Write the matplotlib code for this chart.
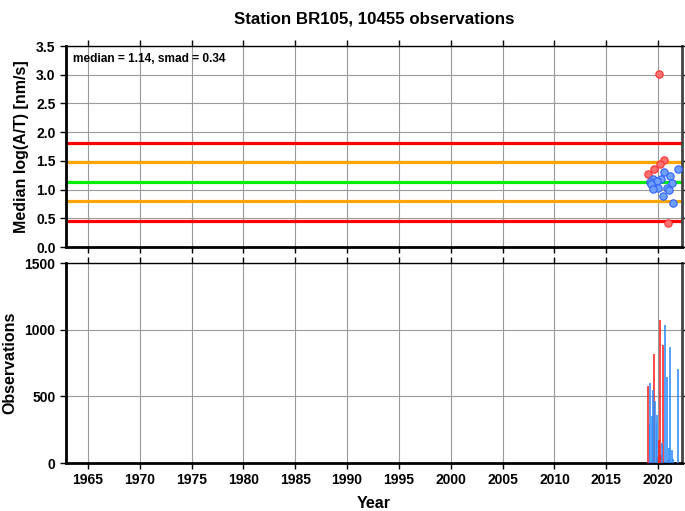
import matplotlib
matplotlib.use("Agg")
import matplotlib.pyplot as plt
import numpy as np

plt.rcParams['font.family'] = ['Liberation Sans', 'DejaVu Sans']
plt.rcParams['font.weight'] = 'bold'

# data
title = "Station BR105, 10455 observations"
median = 1.14
smad = 0.34

red_years = [2020.09, 2020.55, 2020.16, 2019.58, 2019.0, 2020.94]
red_vals = [3.02, 1.51, 1.45, 1.35, 1.27, 0.41]
blue_years = [2021.87, 2020.6, 2021.1, 2019.5, 2020.29, 2019.84, 2019.17,
              2021.3, 2019.34, 2019.99, 2019.5, 2020.84, 2021.03, 2020.48,
              2021.45]
blue_vals = [1.36, 1.31, 1.24, 1.19, 1.18, 1.15, 1.13, 1.12, 1.09, 1.03,
             1.01, 1.02, 0.99, 0.88, 0.76]

bar_red_years = [2019.0, 2019.58, 2019.97, 2020.07, 2020.17, 2020.27, 2020.5,
                 2020.94]
bar_red_counts = [580, 815, 47, 172, 1072, 60, 885, 22]
bar_blue_years = [2019.25, 2019.16, 2019.42, 2019.54, 2019.73, 2019.83,
                  2019.92, 2020.37, 2020.64, 2020.83, 2021.03, 2021.12,
                  2021.3, 2021.45, 2021.87]
bar_blue_counts = [598, 292, 352, 547, 465, 302, 360, 152, 1035, 647, 115,
                   868, 97, 28, 703]

fig = plt.figure(figsize=(6.85, 5.11), dpi=100)
ax1 = fig.add_axes([0.0964, 0.5166, 0.8993, 0.3933])
ax2 = fig.add_axes([0.0964, 0.0939, 0.8993, 0.3914])

xmin, xmax = 1962.9, 2022.3
years = np.arange(1965, 2021, 5)

for ax in (ax1, ax2):
    ax.set_xlim(xmin, xmax)
    ax.set_xticks(years)
    ax.grid(True, color='#9a9a9a', linewidth=0.8)
    ax.set_axisbelow(True)
    ax.tick_params(direction='out', length=4, width=1, labelsize=10,
                   right=True, top=True)
    ax.spines['left'].set_linewidth(2)
    ax.spines['bottom'].set_linewidth(2)
    ax.spines['right'].set_linewidth(2)
    ax.spines['right'].set_color('#444444')
    ax.spines['top'].set_linewidth(1)

# top panel
for lvl, col in [(median + 2 * smad, '#ff0000'), (median + smad, '#ffa500'),
                 (median, '#00ee00'), (median - smad, '#ffa500'),
                 (median - 2 * smad, '#ff0000')]:
    ax1.axhline(lvl, color=col, linewidth=2.3, zorder=2)
ax1.scatter(red_years, red_vals, s=28, facecolor='#ff7070',
            edgecolor='#ff3030', linewidth=0.8, zorder=3)
ax1.scatter(blue_years, blue_vals, s=28, facecolor='#6fa0ff',
            edgecolor='#3060ff', linewidth=0.8, zorder=3)
ax1.set_ylim(0, 3.5)
ax1.set_yticks(np.arange(0, 3.51, 0.5))
ax1.set_yticklabels(["%.1f" % v for v in np.arange(0, 3.51, 0.5)])
ax1.tick_params(labelbottom=False)
ax1.set_ylabel("Median log(A/T) [nm/s]", fontsize=11.5, fontweight='bold',
               labelpad=5)
ax1.text(0.011, 0.965, "median = %.2f, smad = %.2f" % (median, smad),
         transform=ax1.transAxes, fontsize=8.6, fontweight='bold',
         va='top', ha='left')
ax1.set_title(title, fontsize=12.2, fontweight='bold', pad=16)

# bottom panel
ax2.bar(bar_red_years, bar_red_counts, width=0.18, color='#ff2020',
        alpha=0.8, zorder=3, linewidth=0)
ax2.bar(bar_blue_years, bar_blue_counts, width=0.18, color='#2a8cff',
        alpha=0.8, zorder=3, linewidth=0)
ax2.set_ylim(0, 1500)
ax2.set_yticks([0, 500, 1000, 1500])
ax2.set_ylabel("Observations", fontsize=11.5, fontweight='bold', labelpad=5)
ax2.set_xlabel("Year", fontsize=11.5, fontweight='bold', labelpad=6)

fig.savefig("out.png", dpi=100)
